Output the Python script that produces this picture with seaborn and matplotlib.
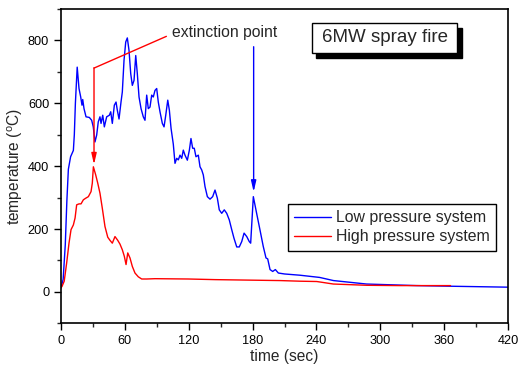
import matplotlib
matplotlib.use("Agg")
import matplotlib.pyplot as plt
import matplotlib.patches as patches
from matplotlib.ticker import MultipleLocator
import numpy as np
import pandas as pd
import seaborn as sns

# low pressure system (blue)
time_low = [0, 2, 4, 5.5, 6.9, 9, 11.6, 12.5, 13.5, 15.2, 16.9, 18.5, 19.7, 20.4, 21.6,
            23.5, 26.6, 28.8, 30.3, 31.9, 33.5, 35, 36.6, 37.6, 39.2, 40.7, 42.9, 45.4,
            46.7, 48.2, 50.1, 51.7, 52.9, 54.5, 56.4, 57.6, 59.2, 60.8, 62.3, 63.9, 65.5,
            67, 68.6, 70.2, 71.7, 73.3, 75.2, 77.3, 78.9, 80.5, 82, 83.6, 85.2, 86.7,
            88.3, 89.9, 91.4, 93, 95.2, 96.8, 98.4, 100.3, 101.8, 103.4, 105.5, 107.1,
            108.7, 110.2, 111.8, 113.4, 114.9, 116.5, 118.7, 120.6, 122.1, 123.7, 125.2,
            126.8, 129, 130.6, 132.2, 133.7, 135.3, 137.5, 140, 142.5, 144.7, 146.9,
            148.7, 151, 153.4, 155.7, 158.1, 160.4, 162.5, 165.1, 167.5, 169.8, 172,
            174.5, 176.9, 178.2, 180.7, 183.8, 186.9, 190, 192.6, 194.2, 196.4, 198.9,
            201.4, 204.2, 210, 224.6, 243, 256, 287, 334, 366, 420]
temp_low = [13, 40, 150, 290, 390, 430, 450, 500, 600, 715, 647, 620, 594, 612, 583,
            557, 555, 546, 525, 477, 499, 541, 557, 536, 562, 525, 557, 562,
            573, 536, 594, 604, 578, 550, 605, 636, 737, 795, 808, 768, 694,
            657, 673, 752, 694, 620, 583, 557, 546, 626, 583, 588, 626, 620,
            641, 647, 604, 573, 536, 525, 562, 610, 578, 520, 470, 409,
            425, 420, 435, 425, 451, 435, 419, 451, 488, 457, 457,
            430, 435, 398, 388, 372, 335, 303, 295, 303, 324, 298,
            261, 250, 261, 250, 229, 198, 171, 143, 143, 160, 187,
            176, 160, 155, 303, 250, 198, 145, 108, 105, 71, 65,
            71, 60, 57, 53, 46, 36, 25, 20, 18, 15]

# high pressure system (red)
time_high = [0, 1, 3, 5.3, 7.5, 9.4, 11.6, 13.2, 14.7, 16.9, 18.8, 21, 23.2, 25.7, 28.2,
             29.4, 30.4, 32.6, 34.5, 36.6, 38.8, 41.3, 43.9, 46, 48.2, 50.7, 53.3, 55.4,
             57.6, 59.5, 61.1, 62.7, 64.8, 67, 69.5, 72.6, 75.8, 80.5, 88.3, 119.6, 144.7,
             205.8, 224.6, 240.3, 255.9, 287.2, 318.6, 366]
temp_high = [13, 18, 34, 92, 155, 198, 213, 235, 277, 280, 280, 293, 298, 303, 319,
             346, 398, 372, 346, 314, 266, 208, 174, 164, 155, 176, 164, 152,
             134, 113, 87, 124, 108, 81, 60, 48, 41, 41, 42, 41, 39,
             36, 34, 33, 25, 21, 20, 20]

series_names = ["Low pressure system", "High pressure system"]

df = pd.concat([
    pd.DataFrame({"time": time_low, "temp": temp_low, "system": series_names[0]}),
    pd.DataFrame({"time": time_high, "temp": temp_high, "system": series_names[1]}),
])

sns.set_style("ticks")
plt.rcParams['font.family'] = ['Liberation Sans', 'DejaVu Sans']

fig = plt.figure(figsize=(5.18, 3.69), dpi=100)
ax = fig.add_axes([0.1178, 0.1238, 0.8629, 0.8518])

sns.lineplot(data=df, x="time", y="temp", hue="system", palette=["#0000ff", "#ff0000"],
             estimator=None, sort=False, lw=1.0, ax=ax)

ax.set_xlim(0, 420)
ax.set_ylim(-100, 900)
ax.xaxis.set_major_locator(MultipleLocator(60))
ax.xaxis.set_minor_locator(MultipleLocator(30))
ax.yaxis.set_major_locator(MultipleLocator(200))
ax.yaxis.set_minor_locator(MultipleLocator(100))
ax.tick_params(which="major", length=5, width=1, labelsize=9.2, direction="out",
               top=False, right=False, colors="black")
ax.tick_params(which="minor", length=3, width=1, direction="out", top=False, right=False)
for s in ax.spines.values():
    s.set_linewidth(1.2)
    s.set_color("black")

ax.set_xlabel("time (sec)", fontsize=11.2, labelpad=1)
ax.set_ylabel("temperature ($^\\mathregular{o}$C)", fontsize=11.2, labelpad=2)

leg = ax.legend(loc="upper left", bbox_to_anchor=(0.508, 0.38), fontsize=11.4,
                frameon=True, fancybox=False, edgecolor="black", framealpha=1,
                handlelength=2.3, handletextpad=0.3, borderpad=0.4,
                labelspacing=0.25, borderaxespad=0)
leg.get_frame().set_linewidth(1.0)

# annotations
ax.text(104, 825, "extinction point", fontsize=11.3, va="center", ha="left")
ax.plot([31, 99], [712, 813], color="red", lw=1.0)
arrow_style = "-|>,head_length=0.65,head_width=0.15"
ax.annotate("", xy=(31, 405), xytext=(31, 713),
            arrowprops=dict(arrowstyle=arrow_style, color="red", lw=1.0,
                            shrinkA=0, shrinkB=0))
ax.annotate("", xy=(181, 318), xytext=(181, 780),
            arrowprops=dict(arrowstyle=arrow_style, color="blue", lw=1.0,
                            shrinkA=0, shrinkB=0))

# title box with shadow
ax.add_patch(patches.Rectangle((0.5715, 0.843), 0.326, 0.0955, transform=ax.transAxes,
                               facecolor="black", edgecolor="black", zorder=5))
ax.add_patch(patches.Rectangle((0.561, 0.861), 0.326, 0.0955, transform=ax.transAxes,
                               facecolor="white", edgecolor="black", lw=1.0, zorder=6))
ax.text(0.724, 0.9085, "6MW spray fire", transform=ax.transAxes, fontsize=13.5,
        ha="center", va="center", zorder=7)

fig.savefig("out.png", dpi=100)
